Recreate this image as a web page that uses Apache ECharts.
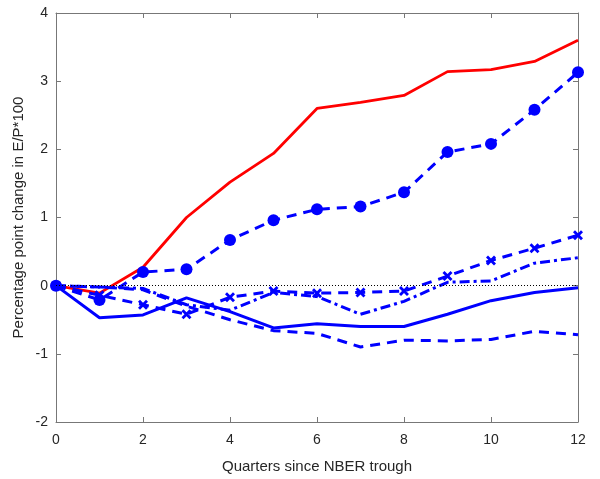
<!DOCTYPE html>
<html>
<head>
<meta charset="utf-8">
<script src="https://cdn.jsdelivr.net/npm/echarts@6/dist/echarts.min.js"></script>
<style>html,body{margin:0;padding:0;background:#fff}#c{width:600px;height:479px}</style>
</head>
<body>
<div id="c"></div>
<script>
var quarters = [0,1,2,3,4,5,6,7,8,9,10,11,12];
var xTicks = [0,2,4,6,8,10,12];
var yTicks = [-2,-1,0,1,2,3,4];
var redSolid   = [0, -0.11, 0.27, 1.0, 1.52, 1.94, 2.6, 2.69, 2.79, 3.14, 3.17, 3.29, 3.6];
var blueCircle = [0, -0.21, 0.2, 0.24, 0.67, 0.96, 1.12, 1.16, 1.37, 1.96, 2.08, 2.58, 3.13];
var blueCross  = [0, -0.14, -0.28, -0.42, -0.17, -0.08, -0.11, -0.1, -0.08, 0.14, 0.37, 0.55, 0.74];
var blueDashDot= [0, -0.02, -0.04, -0.28, -0.36, -0.1, -0.16, -0.42, -0.23, 0.05, 0.07, 0.33, 0.41];
var blueDashed = [0, -0.02, -0.06, -0.3, -0.5, -0.66, -0.7, -0.9, -0.8, -0.81, -0.79, -0.67, -0.72];
var blueSolid  = [0, -0.47, -0.43, -0.18, -0.38, -0.62, -0.56, -0.6, -0.6, -0.42, -0.22, -0.1, -0.03];

function pairs(arr){ return quarters.map(function(q,i){ return [q, arr[i]]; }); }
var FONT = '"Liberation Sans", Arial, Helvetica, sans-serif';
var AX = '#777777';
var BLUE = '#0000ff';
var crossPath = 'path://M0,2 L2,0 L5,3 L8,0 L10,2 L7,5 L10,8 L8,10 L5,7 L2,10 L0,8 L3,5 Z';

var chart = echarts.init(document.getElementById('c'), null, {renderer:'canvas'});
var axisCommon = {
  axisLine:{show:true, onZero:false, lineStyle:{color:AX, width:1}},
  axisTick:{show:true, inside:true, length:5, lineStyle:{color:AX, width:1}},
  splitLine:{show:false}
};
chart.setOption({
  animation:false,
  backgroundColor:'#fff',
  grid:{left:56, right:22, top:13, bottom:56, containLabel:false},
  xAxis:[
    Object.assign({type:'value', min:0, max:12, interval:2, position:'bottom',
      name:'Quarters since NBER trough', nameLocation:'middle', nameGap:37, nameMoveOverlap:false,
      nameTextStyle:{fontFamily:FONT, fontSize:15, color:'#262626'},
      axisLabel:{fontFamily:FONT, fontSize:14, color:'#262626', margin:11,
        formatter:function(v){ return xTicks.indexOf(v)>=0 ? String(v) : ''; }}}, axisCommon),
    Object.assign({type:'value', min:0, max:12, interval:2, position:'top', axisLabel:{show:false}}, axisCommon)
  ],
  yAxis:[
    Object.assign({type:'value', min:-2, max:4, interval:1, position:'left',
      name:'Percentage point change in E/P*100', nameLocation:'middle', nameGap:30, nameMoveOverlap:false,
      nameTextStyle:{fontFamily:FONT, fontSize:15, color:'#262626'},
      axisLabel:{fontFamily:FONT, fontSize:14, color:'#262626', margin:8,
        formatter:function(v){ return yTicks.indexOf(v)>=0 ? String(v) : ''; }}}, axisCommon),
    Object.assign({type:'value', min:-2, max:4, interval:1, position:'right', axisLabel:{show:false}}, axisCommon)
  ],
  series:[
    {type:'line', data:pairs(redSolid), showSymbol:false, symbol:'none',
      lineStyle:{color:'#ff0000', width:2.8}, z:2,
      markLine:{silent:true, symbol:'none', label:{show:false},
        lineStyle:{color:'#000', type:[1,2], width:1}, data:[{yAxis:0}]}},
    {type:'line', data:pairs(blueCircle), symbol:'circle', symbolSize:12,
      itemStyle:{color:BLUE}, lineStyle:{color:BLUE, width:3, type:[10,7]}, z:3},
    {type:'line', data:pairs(blueCross), symbol:crossPath, symbolSize:10,
      itemStyle:{color:BLUE}, lineStyle:{color:BLUE, width:3, type:[10,7]}, z:3},
    {type:'line', data:pairs(blueDashDot), symbol:'none',
      lineStyle:{color:BLUE, width:3, type:[10,4,3,4]}, z:3},
    {type:'line', data:pairs(blueDashed), symbol:'none',
      lineStyle:{color:BLUE, width:3, type:[10,7]}, z:3},
    {type:'line', data:pairs(blueSolid), symbol:'none',
      lineStyle:{color:BLUE, width:3}, z:3}
  ]
});
</script>
</body>
</html>
